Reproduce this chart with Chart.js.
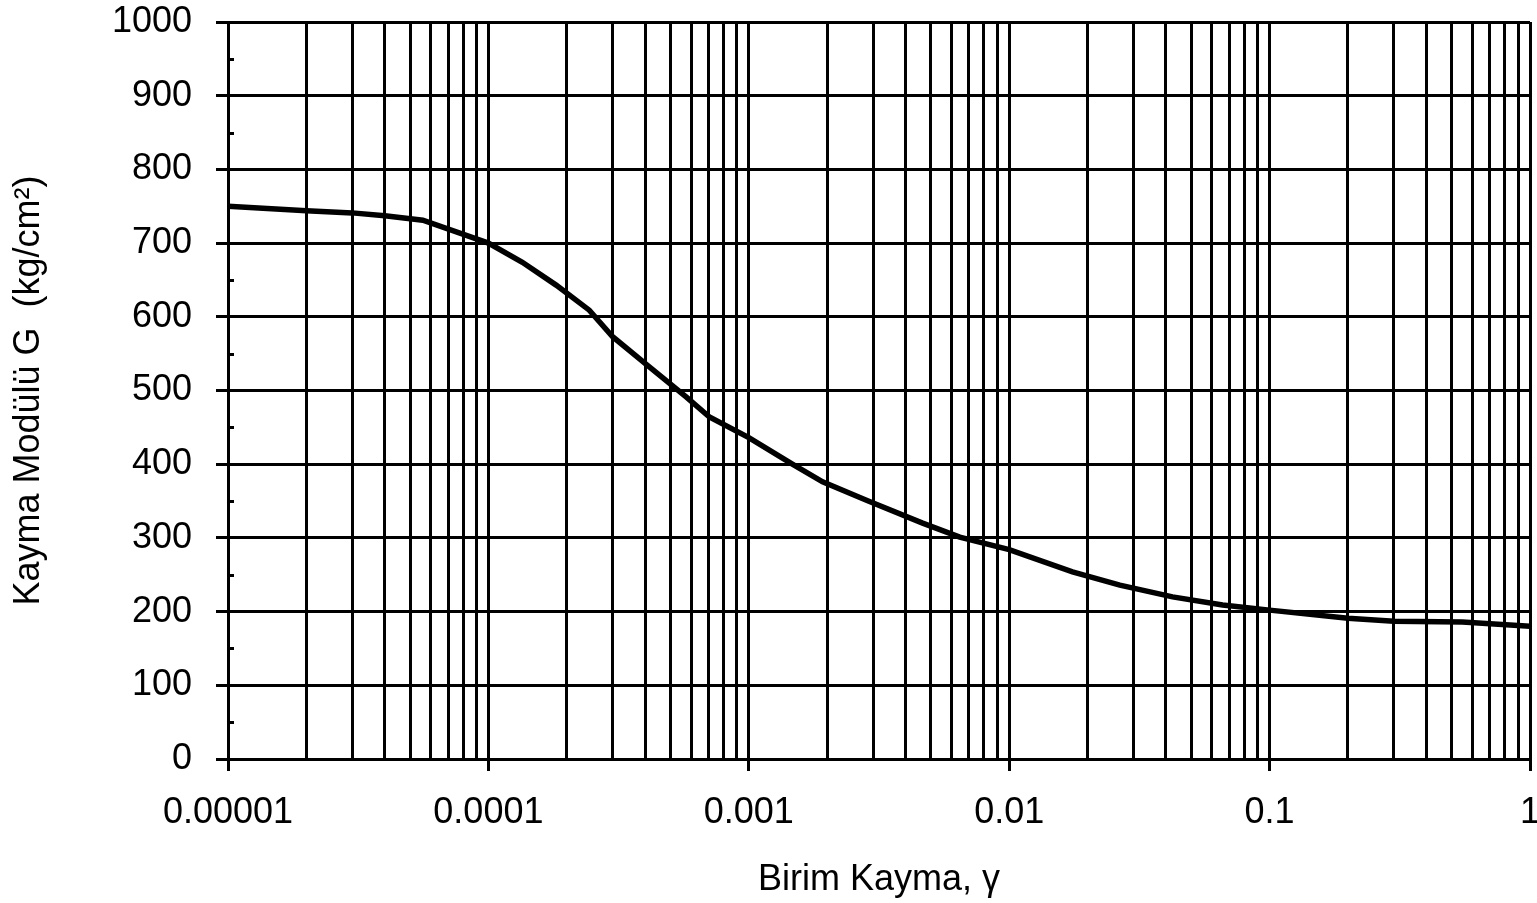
<!DOCTYPE html>
<html>
<head>
<meta charset="utf-8">
<script src="https://cdn.jsdelivr.net/npm/chart.js@4/dist/chart.umd.min.js"></script>
<style>
  html, body { margin: 0; padding: 0; background: #fff; }
  canvas { display: block; }
</style>
</head>
<body>
<canvas id="myChart" width="1537" height="903"></canvas>
<script>
// shear strain (gamma) and shear modulus G in kg/cm2
const strain = [
  0.00001, 0.00002, 0.00003, 0.00004, 0.000056,
  0.0001, 0.000135, 0.000182, 0.000244, 0.0003,
  0.000415, 0.000576, 0.000706, 0.001, 0.00147,
  0.00192, 0.00283, 0.00465, 0.00646, 0.01,
  0.0175, 0.0266, 0.0424, 0.066, 0.1,
  0.2, 0.3, 0.55, 1
];
const modulus = [
  750, 744, 741, 737, 731,
  700, 674, 643, 609, 573,
  532, 491, 464, 436, 400,
  376, 351, 320, 301, 284,
  254, 236, 220, 209, 202,
  191, 187, 186, 180
];

// decade tick values and their labels
const xDecades = [0.00001, 0.0001, 0.001, 0.01, 0.1, 1];
const xTickLabels = ['0.00001', '0.0001', '0.001', '0.01', '0.1', '1'];
const yMinorTicks = [50, 150, 250, 350, 450, 550, 650, 750, 850, 950];

const FONT = "'Liberation Sans', Arial, sans-serif";
const LW = 3;

Chart.defaults.color = '#000';
Chart.defaults.font.family = FONT;

// short inward ticks between the labelled y values
const minorTicks = {
  id: 'minorTicks',
  afterDatasetsDraw(chart) {
    const y = chart.scales.y;
    const left = chart.chartArea.left;
    const ctx = chart.ctx;
    ctx.save();
    ctx.strokeStyle = '#000';
    ctx.lineWidth = LW;
    yMinorTicks.forEach(v => {
      const py = Math.round(y.getPixelForValue(v)) + 0.5;
      ctx.beginPath();
      ctx.moveTo(left, py);
      ctx.lineTo(left + 6, py);
      ctx.stroke();
    });
    ctx.restore();
  }
};

const data = {
  datasets: [{
    data: strain.map((x, i) => ({ x: x, y: modulus[i] })),
    borderColor: '#000',
    borderWidth: 5.5,
    pointRadius: 0,
    tension: 0,
    fill: false
  }]
};

const config = {
  type: 'line',
  data: data,
  options: {
    responsive: false,
    animation: false,
    layout: { padding: { top: 22, right: 7, left: 0, bottom: 0 } },
    plugins: {
      legend: { display: false },
      tooltip: { enabled: false }
    },
    scales: {
      x: {
        type: 'logarithmic',
        min: 0.00001,
        max: 1,
        afterBuildTicks(scale) {
          const ticks = [];
          xDecades.forEach((d, i) => {
            if (i === xDecades.length - 1) {
              ticks.push({ value: d, major: true });
              return;
            }
            for (let m = 1; m <= 9; m++) {
              ticks.push({ value: d * m, major: m === 1 });
            }
          });
          scale.ticks = ticks;
        },
        afterFit(scale) {
          scale.height = 144;
          scale.paddingLeft = 0;
          scale.paddingRight = 0;
        },
        ticks: {
          autoSkip: false,
          maxRotation: 0,
          minRotation: 0,
          padding: 20,
          font: { size: 36 },
          callback: (value, index, ticks) => ticks[index].major ? xTickLabels[xDecades.findIndex(d => Math.abs(d - value) / d < 1e-6)] : ''
        },
        grid: {
          color: '#000',
          lineWidth: LW,
          tickLength: 12,
          tickWidth: LW,
          tickColor: ctx => (ctx.tick && ctx.tick.major) ? '#000' : 'rgba(0,0,0,0)'
        },
        border: { display: true, color: '#000', width: LW },
        title: {
          display: true,
          text: 'Birim Kayma, γ',
          font: { size: 36 },
          padding: { top: 0, bottom: 1 }
        }
      },
      y: {
        min: 0,
        max: 1000,
        afterFit(scale) {
          scale.width = 228;
          scale.paddingTop = 0;
          scale.paddingBottom = 0;
        },
        ticks: {
          stepSize: 100,
          padding: 24,
          font: { size: 36 },
          callback: value => String(value)
        },
        grid: {
          color: '#000',
          lineWidth: LW,
          tickLength: 12,
          tickWidth: LW,
          tickColor: '#000'
        },
        border: { display: true, color: '#000', width: LW },
        title: {
          display: true,
          text: 'Kayma Modülü G  (kg/cm²)',
          font: { size: 36 },
          padding: { top: 7, bottom: 0 }
        }
      }
    }
  },
  plugins: [minorTicks]
};

const myChart = new Chart(
  document.getElementById('myChart'),
  config
);
</script>
</body>
</html>
